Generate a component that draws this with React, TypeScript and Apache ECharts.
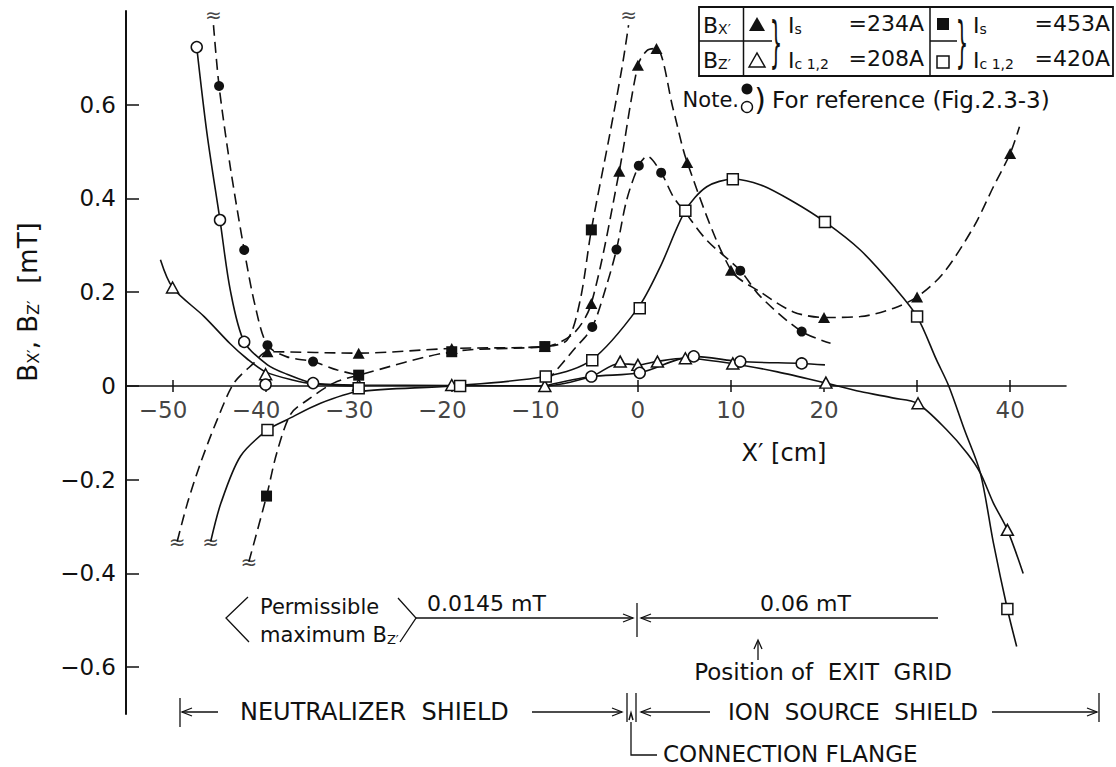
import React, { useEffect, useRef } from 'react';
import * as echarts from 'echarts';

// Field components along X' [cm], values in mT.

// Bx' at Is = 234 A, Ic1,2 = 208 A (filled triangles, dashed)
const bxLowCurveX = [-49.5, -48.4, -47.0, -45.2, -43.4, -41.3, -39.8, -30, -20, -10, -6.9, -5, -2, 0, 1, 2, 3.8, 5.3, 10, 13.2, 16.7, 20, 23.9, 27.5, 30, 32.8, 36.1, 38.2, 40, 41];
const bxLowCurveY = [-0.332, -0.25, -0.165, -0.072, 0.006, 0.048, 0.073, 0.07, 0.08, 0.084, 0.112, 0.176, 0.458, 0.684, 0.716, 0.72, 0.59, 0.477, 0.247, 0.2, 0.158, 0.146, 0.148, 0.166, 0.19, 0.24, 0.34, 0.425, 0.496, 0.553];
const bxLowPointX = [-39.8, -30, -20, -10, -5, -2, 0, 2, 5.3, 10, 20, 30, 40];
const bxLowPointY = [0.073, 0.07, 0.08, 0.084, 0.176, 0.458, 0.684, 0.72, 0.477, 0.247, 0.146, 0.19, 0.496];

// Bx' at Is = 453 A, Ic1,2 = 420 A (filled squares, dashed)
const bxHighCurveX = [-41.8, -39.9, -38.8, -37.3, -35.5, -32.7, -30, -20, -10, -7.6, -6.2, -5, -3, -1.7, -1.0];
const bxHighCurveY = [-0.375, -0.235, -0.143, -0.06, -0.03, 0.006, 0.023, 0.073, 0.084, 0.098, 0.183, 0.333, 0.539, 0.68, 0.77];
const bxHighPointX = [-39.9, -30, -20, -10, -5];
const bxHighPointY = [-0.235, 0.023, 0.073, 0.084, 0.333];

// Bz' at Is = 453 A, Ic1,2 = 420 A (open squares, solid)
const bzHighCurveX = [-45.9, -44.8, -42.7, -39.8, -37.7, -34.1, -30, -20, -10, -5, 0, 2.4, 5.1, 7.4, 10.2, 13.2, 16.7, 20.1, 23.9, 27.5, 30, 32.1, 33.4, 35.1, 36.8, 38.2, 39.7, 40.7];
const bzHighCurveY = [-0.332, -0.25, -0.15, -0.094, -0.072, -0.037, -0.012, 0.0, 0.02, 0.055, 0.166, 0.254, 0.374, 0.425, 0.441, 0.429, 0.393, 0.35, 0.29, 0.212, 0.148, 0.055, 0.0, -0.094, -0.186, -0.335, -0.476, -0.556];
const bzHighPointX = [-39.8, -30, -19.1, -9.9, -4.9, 0.2, 5.1, 10.2, 20.1, 30, 39.7];
const bzHighPointY = [-0.094, -0.005, 0.0, 0.02, 0.055, 0.166, 0.374, 0.441, 0.35, 0.148, -0.476];

// Bz' at Is = 234 A, Ic1,2 = 208 A (open triangles, solid)
const bzLowCurveX = [-51.3, -50, -46.6, -43.8, -42, -40, -37, -35, -30, -20, -10, -5, -2, 0, 2, 5, 10, 15, 20, 23.9, 27.5, 30, 33.2, 35.4, 36.8, 38.2, 39.7, 41.4];
const bzLowCurveY = [0.269, 0.21, 0.148, 0.09, 0.058, 0.03, 0.012, 0.005, 0.002, 0.001, 0.0, 0.02, 0.048, 0.045, 0.052, 0.059, 0.048, 0.03, 0.007, -0.012, -0.026, -0.037, -0.094, -0.144, -0.186, -0.25, -0.307, -0.4];
const bzLowPointX = [-50, -40, -30, -20, -10, -1.9, 0, 2.1, 5.1, 10.2, 20.2, 30.1, 39.7];
const bzLowPointY = [0.21, 0.025, 0.002, 0.002, 0.0, 0.052, 0.045, 0.052, 0.059, 0.048, 0.007, -0.037, -0.307];

// Reference Bx' (Fig. 2.3-3): filled circles, dashed, two segments
const refBxLeftX = [-45.6, -45, -43.8, -42.3, -41.1, -39.8, -37.7, -34.9, -32.3, -30];
const refBxLeftY = [0.77, 0.64, 0.468, 0.29, 0.169, 0.087, 0.062, 0.052, 0.034, 0.023];
const refBxMidX = [-9.8, -6.9, -4.9, -3.3, -2.3, -1.2, 0.1, 1.0, 2.5, 3.8, 5.1, 7.4, 11, 13.2, 17.6, 20.7];
const refBxMidY = [0.009, 0.077, 0.126, 0.219, 0.291, 0.397, 0.47, 0.49, 0.455, 0.404, 0.37, 0.311, 0.246, 0.19, 0.116, 0.091];
const refBxPointX = [-45, -42.3, -39.8, -34.9, -4.9, -2.3, 0.1, 2.5, 11, 17.6];
const refBxPointY = [0.64, 0.29, 0.087, 0.052, 0.126, 0.291, 0.47, 0.455, 0.246, 0.116];

// Reference Bz' (Fig. 2.3-3): open circles, solid, two segments
const refBzLeftX = [-47.4, -46.3, -44.9, -43.8, -42.3, -39.8, -37.7, -34.9, -30];
const refBzLeftY = [0.723, 0.539, 0.354, 0.205, 0.094, 0.045, 0.025, 0.006, 0.0];
const refBzMidX = [-10, -5, 0.2, 6, 11, 17.6, 20.1];
const refBzMidY = [0.0, 0.02, 0.028, 0.063, 0.052, 0.048, 0.045];
const refBzPointX = [-47.4, -44.9, -42.3, -40, -34.9, -5, 0.2, 6, 11, 17.6];
const refBzPointY = [0.723, 0.354, 0.094, 0.003, 0.006, 0.02, 0.028, 0.063, 0.052, 0.048];

// Curve ends cut off by the scale (≈ marks)
const topBreakX = [-45.6, -1.0];
const topBreakY = [0.77, 0.77];
const bottomBreakX = [-49.5, -45.9, -41.8];
const bottomBreakY = [-0.332, -0.332, -0.375];

// Axis ticks and labels
const xTickValues = [-50, -40, -30, -20, -10, 0, 10, 20, 30, 40];
const xLabelValues = [-50, -40, -30, -20, -10, 0, 10, 20, 40];
const yTickValues = [-0.6, -0.4, -0.2, 0, 0.2, 0.4, 0.6];

const FONT = '"DejaVu Sans", sans-serif';
const INK = '#111';

const pairs = (xs: number[], ys: number[]) => xs.map((x, i) => [x, ys[i]]);

function curve(data: number[][], dashed: boolean) {
  return {
    type: 'line',
    data,
    smooth: 0.3,
    showSymbol: false,
    symbol: 'none',
    silent: true,
    z: 2,
    lineStyle: { color: INK, width: 1.6, type: dashed ? [11, 6] : 'solid' },
  };
}

function markers(data: number[][], symbol: string, filled: boolean, size: number | number[]) {
  return {
    type: 'scatter',
    data,
    symbol,
    symbolSize: size,
    silent: true,
    z: 5,
    itemStyle: {
      color: filled ? INK : '#fff',
      borderColor: INK,
      borderWidth: filled ? 0 : 1.5,
      opacity: 1,
    },
  };
}

function breaks(data: number[][], position: string) {
  return {
    type: 'scatter',
    data,
    symbolSize: 1,
    silent: true,
    z: 6,
    itemStyle: { color: 'rgba(0,0,0,0)' },
    label: {
      show: true,
      position,
      distance: 0,
      formatter: '≈',
      fontSize: 20,
      fontFamily: FONT,
      color: INK,
    },
  };
}

// ---- drawing helpers for the annotation layer ----
const stroke = { stroke: INK, lineWidth: 1.3, fill: null as any };
const ln = (x1: number, y1: number, x2: number, y2: number, w = 1.3) => ({
  type: 'line', silent: true, shape: { x1, y1, x2, y2 }, style: { ...stroke, lineWidth: w },
});
const pl = (points: number[][], w = 1.3) => ({
  type: 'polyline', silent: true, shape: { points }, style: { ...stroke, lineWidth: w },
});
const arrowR = (x: number, y: number) => pl([[x - 10, y - 4], [x, y], [x - 10, y + 4]]);
const arrowL = (x: number, y: number) => pl([[x + 10, y - 4], [x, y], [x + 10, y + 4]]);
const arrowU = (x: number, y: number) => pl([[x - 4, y + 9], [x, y], [x + 4, y + 9]]);

const subRich = (size: number, sub: number) => ({
  m: { fontSize: size, fontFamily: FONT, color: INK, lineHeight: size + 2, verticalAlign: 'bottom' },
  s: { fontSize: sub, fontFamily: FONT, color: INK, lineHeight: sub, verticalAlign: 'bottom' },
});

function txt(x: number, y: number, text: string, size: number, align = 'left', vAlign = 'middle', extra: any = {}) {
  return {
    type: 'text',
    x,
    y,
    silent: true,
    style: {
      text,
      fill: INK,
      font: `${size}px ${FONT}`,
      align,
      verticalAlign: vAlign,
      textAlign: align,
      textVerticalAlign: vAlign,
      ...extra,
    },
  };
}

function richTxt(x: number, y: number, text: string, size: number, sub: number, align = 'left') {
  return txt(x, y, text, size, align, 'middle', { rich: subRich(size, sub) });
}

function brace(x: number, y: number) {
  return {
    type: 'text',
    x,
    y,
    scaleX: 0.35,
    silent: true,
    style: {
      text: '}',
      fill: INK,
      font: `56px ${FONT}`,
      align: 'center',
      verticalAlign: 'middle',
      textAlign: 'center',
      textVerticalAlign: 'middle',
    },
  };
}

function annotations() {
  const els: any[] = [];

  // y-axis title, read bottom to top
  els.push({
    type: 'group',
    x: 27,
    y: 302,
    rotation: Math.PI / 2,
    children: [richTxt(0, 0, '{m|B}{s|X′}{m|, B}{s|Z′}{m|  [mT]}', 26, 16, 'center')],
  });

  // x-axis title
  els.push(txt(784, 453, 'X′ [cm]', 24, 'center'));

  // legend table
  els.push({ type: 'rect', silent: true, shape: { x: 699, y: 7, width: 414, height: 69 }, style: { ...stroke, lineWidth: 1.8 } });
  els.push(ln(699, 41, 772, 41, 1.5));
  els.push(ln(930, 41, 957, 41, 1.5));
  els.push(ln(743.5, 7, 743.5, 76, 1.5));
  els.push(ln(930, 7, 930, 76, 1.5));
  els.push({ type: 'polygon', silent: true, shape: { points: [[749, 31], [757, 17], [765, 31]] }, style: { fill: INK } });
  els.push({ type: 'polygon', silent: true, shape: { points: [[749, 67], [757, 53], [765, 67]] }, style: { ...stroke, lineWidth: 1.5, fill: '#fff' } });
  els.push({ type: 'rect', silent: true, shape: { x: 937, y: 18, width: 12, height: 12 }, style: { fill: INK } });
  els.push({ type: 'rect', silent: true, shape: { x: 937, y: 56, width: 12, height: 12 }, style: { ...stroke, lineWidth: 1.5, fill: '#fff' } });
  els.push(richTxt(703, 24, '{m|B}{s|X′}', 22, 14));
  els.push(richTxt(703, 59, '{m|B}{s|Z′}', 22, 14));
  els.push(brace(776, 42));
  els.push(brace(962, 42));
  els.push(richTxt(788, 24, '{m|I}{s|s}', 22, 14));
  els.push(richTxt(788, 59, '{m|I}{s|c 1,2}', 22, 14));
  els.push(txt(924, 23, '=234A', 22, 'right'));
  els.push(txt(924, 58, '=208A', 22, 'right'));
  els.push(richTxt(973, 24, '{m|I}{s|s}', 22, 14));
  els.push(richTxt(973, 59, '{m|I}{s|c 1,2}', 22, 14));
  els.push(txt(1110, 23, '=453A', 22, 'right'));
  els.push(txt(1110, 58, '=420A', 22, 'right'));

  // note on the reference curves
  els.push(txt(739, 100, 'Note.', 21, 'right'));
  els.push({ type: 'circle', silent: true, shape: { cx: 747, cy: 89, r: 5.5 }, style: { fill: INK } });
  els.push({ type: 'circle', silent: true, shape: { cx: 747, cy: 107, r: 5.5 }, style: { ...stroke, lineWidth: 1.4, fill: '#fff' } });
  els.push(txt(760, 99, ')', 30, 'center'));
  els.push(txt(772, 100, 'For reference (Fig.2.3-3)', 23));

  // permissible maximum Bz'
  els.push(pl([[248, 597], [226, 618], [249, 642]]));
  els.push(pl([[398, 598], [416, 618], [400, 642]]));
  els.push(txt(260, 607, 'Permissible', 21));
  els.push(richTxt(260, 634, '{m|maximum B}{s|Z′}', 21, 13));
  els.push(ln(416, 618, 633, 618));
  els.push(arrowR(633, 618));
  els.push(ln(637, 603, 637, 637));
  els.push(arrowL(641, 618));
  els.push(ln(641, 618, 938, 618));
  els.push(txt(427, 614, '0.0145 mT', 22, 'left', 'bottom'));
  els.push(txt(760, 614, '0.06 mT', 22, 'left', 'bottom'));

  // exit grid position
  els.push(ln(758, 660, 758, 641));
  els.push(arrowU(758, 640));
  els.push(txt(823, 672, 'Position of  EXIT  GRID', 23, 'center'));

  // shield extents
  els.push(ln(180, 698, 180, 727));
  els.push(ln(182, 712, 218, 712));
  els.push(arrowL(182, 712));
  els.push(txt(240, 712, 'NEUTRALIZER  SHIELD', 24));
  els.push(ln(532, 712, 622, 712));
  els.push(arrowR(622, 712));
  els.push(ln(627, 693, 627, 722));
  els.push(ln(636, 693, 636, 722));
  els.push(ln(641, 712, 710, 712));
  els.push(arrowL(641, 712));
  els.push(txt(728, 712, 'ION  SOURCE  SHIELD', 23));
  els.push(ln(992, 712, 1097, 712));
  els.push(arrowR(1097, 712));
  els.push(ln(1099, 693, 1099, 722));

  // connection flange leader
  els.push(pl([[631, 722], [631, 755], [657, 755]]));
  els.push(pl([[629, 720], [631, 713], [633, 720]], 1.5));
  els.push(txt(663, 754, 'CONNECTION FLANGE', 23));

  return els;
}

export default function App() {
  const ref = useRef<HTMLDivElement>(null);

  useEffect(() => {
    if (!ref.current) return;
    const chart = echarts.init(ref.current, undefined, { renderer: 'svg' });

    const labelFont = { fontSize: 23, fontFamily: FONT, color: INK };

    const option: any = {
      animation: false,
      backgroundColor: '#fff',
      grid: { left: 126, right: 50, top: 11, bottom: 53, containLabel: false },
      xAxis: [
        {
          type: 'value',
          min: -55,
          max: 46,
          splitLine: { show: false },
          axisLine: { show: true, onZero: true, onZeroAxisIndex: 0, lineStyle: { color: INK, width: 1.6 } },
          axisTick: { show: true, inside: false, length: 6, customValues: xTickValues, lineStyle: { color: INK, width: 1.5 } },
          axisLabel: { show: false },
        },
        {
          type: 'value',
          position: 'top',
          min: -55,
          max: 46,
          splitLine: { show: false },
          axisLine: { show: false, onZero: true, onZeroAxisIndex: 0 },
          axisTick: { show: true, inside: false, length: 6, customValues: xTickValues, lineStyle: { color: INK, width: 1.5 } },
          axisLabel: { show: false },
        },
      ],
      yAxis: {
        type: 'value',
        min: -0.7,
        max: 0.8,
        splitLine: { show: false },
        axisLine: { show: true, onZero: false, lineStyle: { color: INK, width: 2 } },
        axisTick: { show: true, inside: true, length: 13, customValues: yTickValues, lineStyle: { color: INK, width: 1.5 } },
        axisLabel: {
          show: true,
          margin: 10,
          customValues: yTickValues,
          ...labelFont,
          formatter: (v: number) => (Math.abs(v) < 1e-9 ? '0' : v < 0 ? `−${Math.abs(v).toFixed(1)}` : v.toFixed(1)),
        },
      },
      series: [
        curve(pairs(bxLowCurveX, bxLowCurveY), true),
        curve(pairs(bxHighCurveX, bxHighCurveY), true),
        curve(pairs(bzHighCurveX, bzHighCurveY), false),
        curve(pairs(bzLowCurveX, bzLowCurveY), false),
        curve(pairs(refBxLeftX, refBxLeftY), true),
        curve(pairs(refBxMidX, refBxMidY), true),
        curve(pairs(refBzLeftX, refBzLeftY), false),
        curve(pairs(refBzMidX, refBzMidY), false),
        markers(pairs(bxLowPointX, bxLowPointY), 'triangle', true, [12, 11]),
        markers(pairs(bzLowPointX, bzLowPointY), 'triangle', false, [12, 11]),
        markers(pairs(bxHighPointX, bxHighPointY), 'rect', true, 11),
        markers(pairs(bzHighPointX, bzHighPointY), 'rect', false, 11),
        markers(pairs(refBxPointX, refBxPointY), 'circle', true, 10),
        markers(pairs(refBzPointX, refBzPointY), 'circle', false, 11),
        breaks(pairs(topBreakX, topBreakY), 'top'),
        breaks(pairs(bottomBreakX, bottomBreakY), 'inside'),
        // tick labels of X', placed on the zero line
        {
          type: 'scatter',
          data: xLabelValues.map((v) => [v, 0]),
          symbolSize: 0,
          silent: true,
          z: 1,
          itemStyle: { color: 'rgba(0,0,0,0)' },
          label: {
            show: true,
            position: 'bottom',
            distance: 13,
            formatter: (p: any) => (p.value[0] < 0 ? `{neg|−${-p.value[0]}}` : `{pos|${p.value[0]}}`),
            rich: {
              neg: { ...labelFont, padding: [0, 19, 0, 0] },
              pos: { ...labelFont },
            },
          },
        },
      ],
      graphic: { elements: annotations() },
    };

    chart.setOption(option);
    return () => chart.dispose();
  }, []);

  return (
    <div
      ref={ref}
      style={{ position: 'fixed', left: 0, top: 0, width: 1116, height: 767, background: '#fff' }}
    />
  );
}
